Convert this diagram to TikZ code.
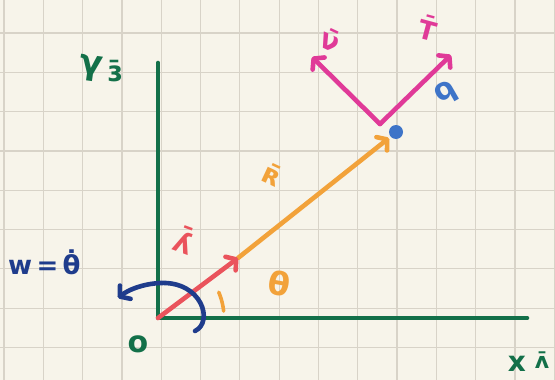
\documentclass[tikz,border=0pt]{standalone}
\usepackage{fontspec}
\newfontfamily\hand{DejaVu Sans}
\usetikzlibrary{arrows.meta}
\definecolor{bgc}{HTML}{F7F4EA}
\definecolor{gridc}{HTML}{D8D3C8}
\definecolor{axisg}{HTML}{137049}
\definecolor{pinkc}{HTML}{E03A98}
\definecolor{orangec}{HTML}{F2A23A}
\definecolor{redc}{HTML}{EA535C}
\definecolor{navyc}{HTML}{1F3C8C}
\definecolor{bluec}{HTML}{3E74C8}
\tikzset{
  gridline/.style={draw=gridc, line width=1.2pt},
  pen/.style={line width=4.6pt, line cap=round, line join=round},
  headtip/.style={-{Straight Barb[round,length=7pt,width=17pt]}},
  axisline/.style={pen, draw=axisg},
  lbl/.style={inner sep=0pt, font=\hand\bfseries\fontsize{26}{26}\selectfont},
  pointdot/.style={circle, fill=bluec, minimum size=14pt, inner sep=0pt},
}
\begin{document}
\begin{tikzpicture}[x=1pt,y=-1pt]
\useasboundingbox (0,0) rectangle (555,380);
\fill[bgc] (0,0) rectangle (555,380);
\begin{scope}
\clip (0,0) rectangle (555,380);
\foreach \i in {0,...,14} \draw[gridline] ({4+39.3*\i},-5) -- ({4+39.3*\i},385);
\foreach \j in {0,...,8} \draw[gridline] (-5,{33+39.3*\j}) -- (560,{33+39.3*\j});
\end{scope}

% key points
\coordinate (O) at (158,318);
\coordinate (ytop) at (158,63);
\coordinate (xend) at (527,318);
\coordinate (rhat) at (238,258);
\coordinate (tip) at (389,138);
\coordinate (V) at (380,124);
\coordinate (thtip) at (312,57);
\coordinate (rrtip) at (451,55);
\coordinate (wstart) at (195,331);
\coordinate (wtop) at (160,283);
\coordinate (wend) at (118,298);

% axes
\draw[axisline] (ytop) -- (O) -- (xend);

% vectors
\draw[pen, draw=orangec, headtip] (rhat) -- (tip);
\draw[pen, draw=redc, headtip] (O) -- (rhat);
\draw[pen, draw=pinkc, headtip] (V) -- (thtip);
\draw[pen, draw=pinkc, headtip] (V) -- (rrtip);
\node[pointdot] (Pdot) at (396,132) {};

% angle mark
\draw[pen, draw=orangec, line width=3.6pt] plot[domain=-6:-23, samples=12] ({158+66*cos(\x)},{318+66*sin(\x)});

% angular velocity arrow
\draw[pen, draw=navyc, headtip] (wstart) .. controls (214,322) and (202,281) .. (wtop)
  .. controls (142,284) and (128,290) .. (wend);

% labels
\node[lbl, text=axisg, font=\hand\bfseries\fontsize{34}{34}\selectfont, rotate=-8] (ylab1) at (91,68) {γ};
\node[lbl, text=axisg, font=\hand\bfseries\fontsize{28}{28}\selectfont] (ylab2) at (115,71) {ɜ̄};
\node[lbl, text=axisg, font=\hand\bfseries\fontsize{30}{30}\selectfont] (olab) at (138,344) {o};
\node[lbl, text=axisg, font=\hand\bfseries\fontsize{28}{28}\selectfont] (xlab1) at (517,364) {x};
\node[lbl, text=axisg, font=\hand\bfseries\fontsize{22}{22}\selectfont] (xlab2) at (542,360) {ʌ̄};
\node[lbl, text=navyc, anchor=base west] (wlab) at (8,274) {w\,=\,θ̇};
\node[lbl, text=orangec, font=\hand\bfseries\fontsize{32}{32}\selectfont, rotate=-10] (thlab) at (279,283) {θ};
\node[lbl, text=orangec, font=\hand\bfseries\fontsize{28}{28}\selectfont, rotate=-25] (rveclab) at (273,175) {ʀ̄};
\node[lbl, text=redc, font=\hand\bfseries\fontsize{28}{28}\selectfont, rotate=-20] (rhatlab) at (185,240) {ʎ̄};
\node[lbl, text=pinkc, font=\hand\bfseries\fontsize{28}{28}\selectfont, rotate=-25] (thhatlab) at (331,40) {ν̄};
\node[lbl, text=pinkc, font=\hand\bfseries\fontsize{26}{26}\selectfont, rotate=-15] (rrhatlab) at (428,28) {T̄};
\node[lbl, text=bluec, font=\hand\bfseries\fontsize{30}{30}\selectfont, xscale=-1, rotate=-30] (Plab) at (447,93) {ρ};
\end{tikzpicture}
\end{document}
